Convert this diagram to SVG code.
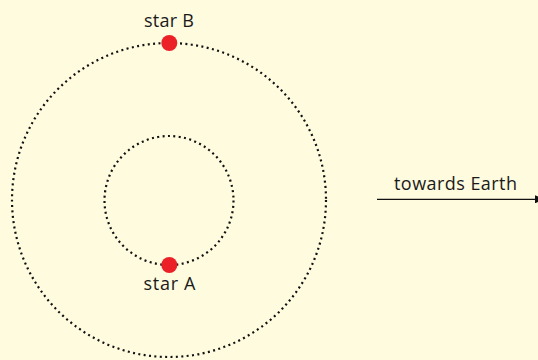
<svg xmlns="http://www.w3.org/2000/svg" width="538" height="360" viewBox="0 0 538 360">
<defs>
<style>
.orbit{fill:none;stroke:#111;stroke-width:2.2;stroke-dasharray:2 3.4}
.star{fill:#ec2127}
.lbl{font-family:"Open Sans","Liberation Sans",sans-serif;font-size:18px;fill:#1a1a1a;text-anchor:middle}
</style>
<marker id="ah" markerWidth="10" markerHeight="8" refX="9" refY="4" orient="auto" markerUnits="userSpaceOnUse">
<path d="M0,0 L10,4 L0,8 Z" fill="#111"/>
</marker>
</defs>
<rect width="538" height="360" fill="#fffbdf"/>
<g id="orbits">
<circle class="orbit" cx="169" cy="200" r="157"/>
<circle class="orbit" cx="169" cy="200.5" r="64.5"/>
</g>
<g id="starB">
<circle class="star" cx="169.3" cy="43" r="8"/>
<text class="lbl" x="169" y="27" textLength="50">star B</text>
</g>
<g id="starA">
<circle class="star" cx="169.3" cy="265" r="8"/>
<text class="lbl" x="169.5" y="290" textLength="52">star A</text>
</g>
<g id="connectors">
<line x1="377" y1="199.3" x2="544" y2="199.3" stroke="#111" stroke-width="1.3" marker-end="url(#ah)"/>
</g>
<g id="earth">
<text class="lbl" x="455.5" y="190" textLength="123">towards Earth</text>
</g>
</svg>
